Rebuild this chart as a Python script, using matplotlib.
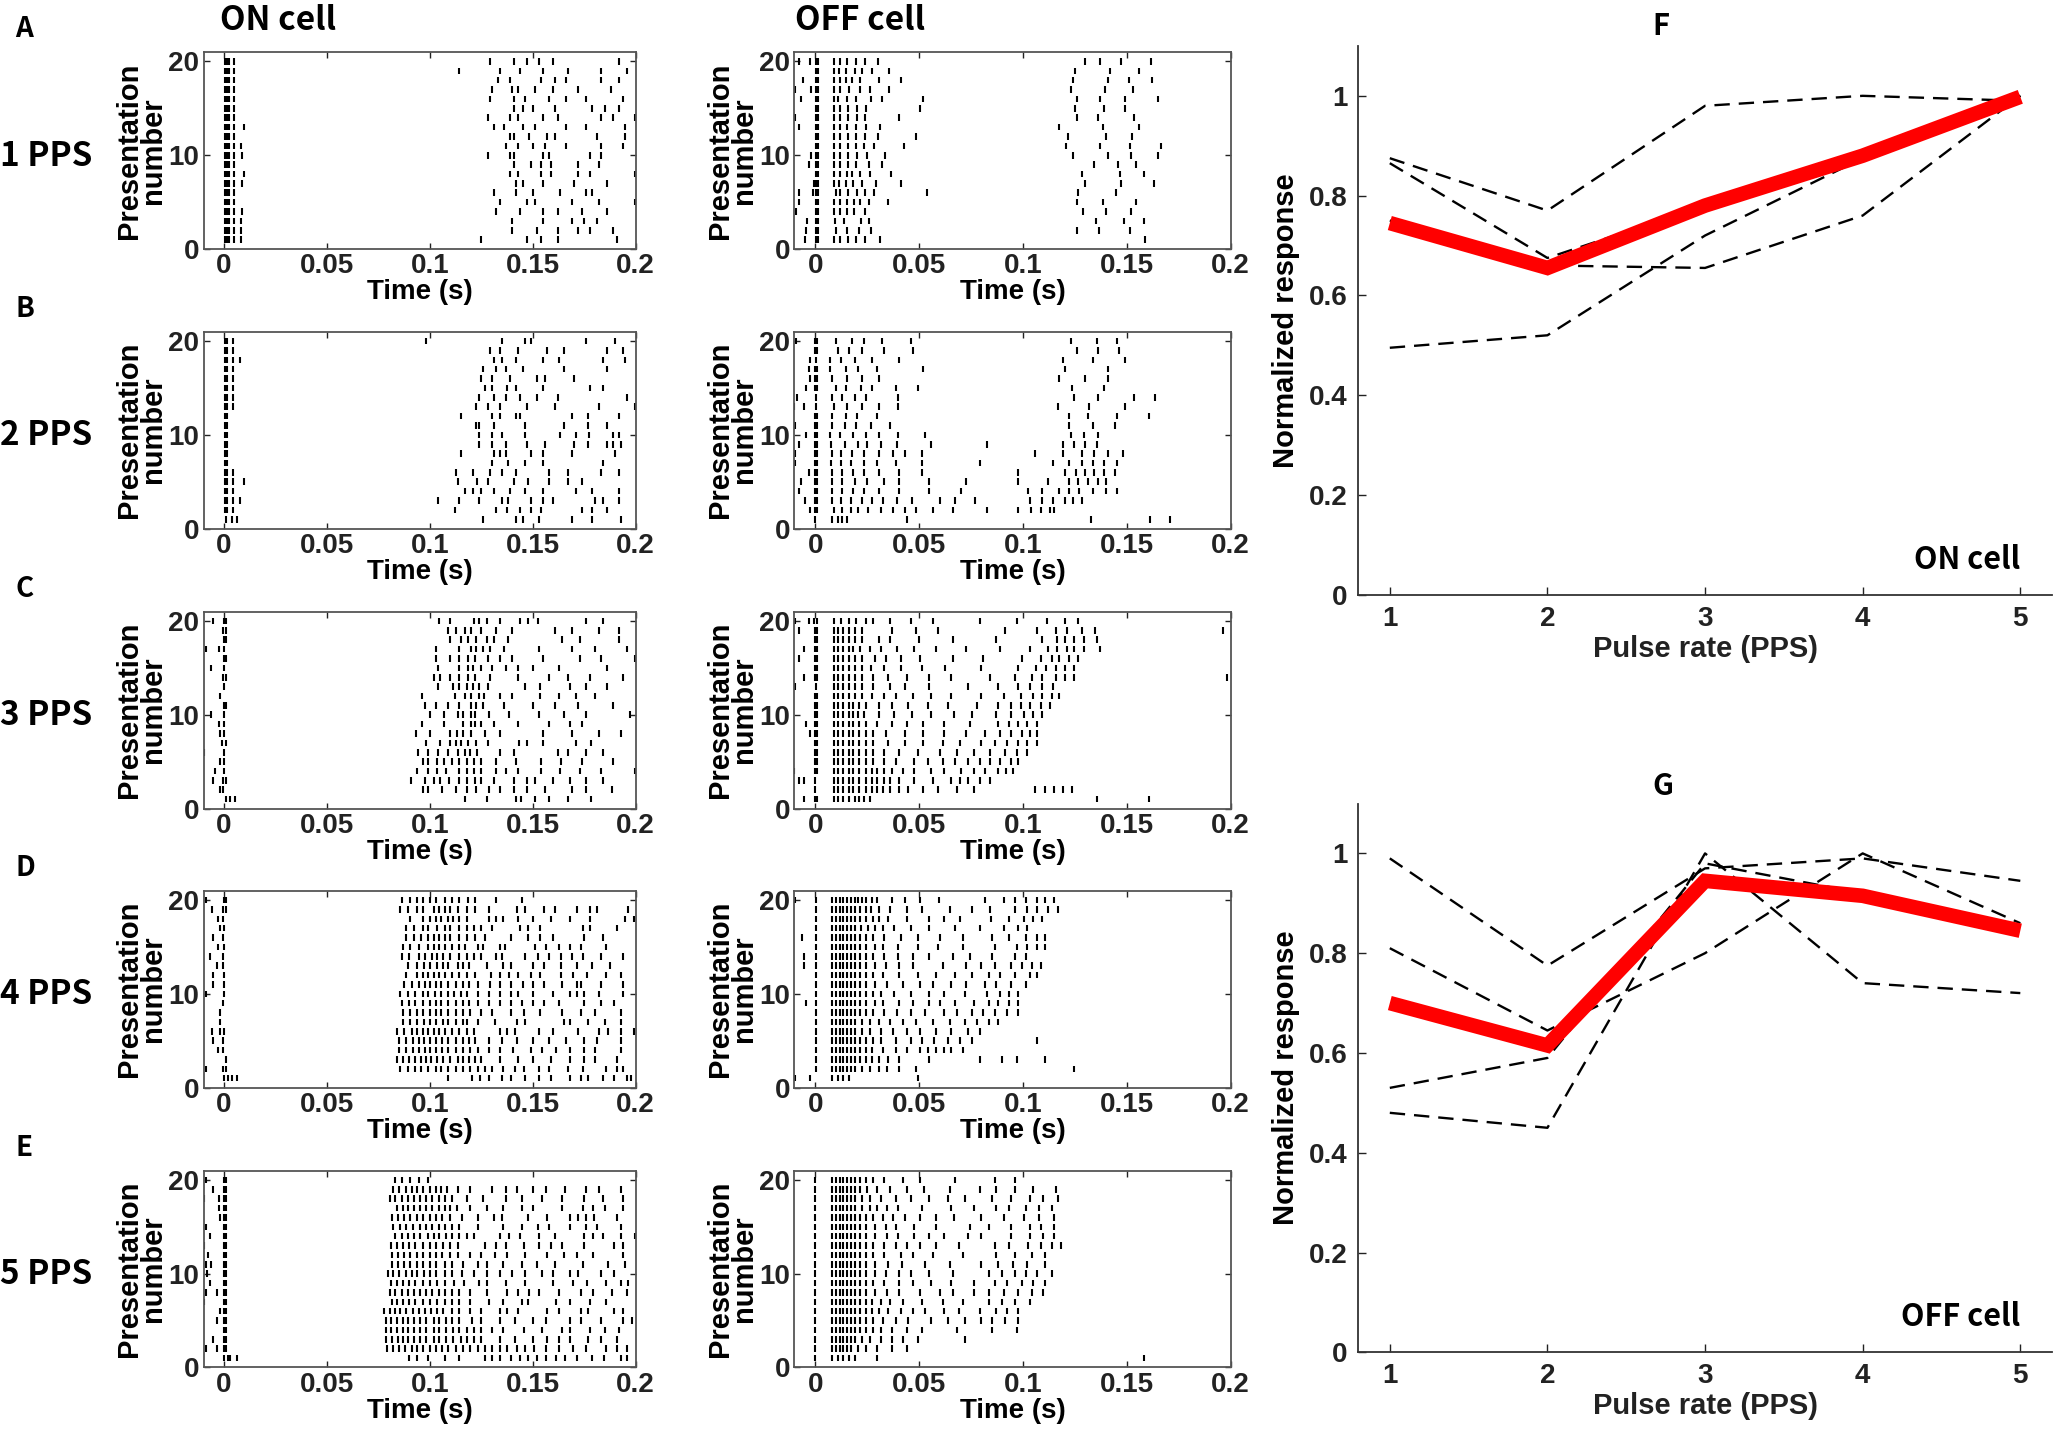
import numpy as np
import matplotlib
matplotlib.use("Agg")
import matplotlib.pyplot as plt

# spike times in ms, one list per presentation, presentation 20 first (top row) down to 1
on_1pps = [
    [0.4, 1.3, 2.3, 4.7, 129, 141, 147, 153, 160, 192],
    [0.4, 1.3, 2.3, 4.7, 114, 134, 144, 155, 167, 183, 196],
    [0.4, 1.3, 2.3, 4.7, 133, 139, 154, 161, 166, 183, 192],
    [0.4, 1.3, 2.3, 4.7, 130, 140, 143, 151, 160, 172, 188],
    [0.4, 1.3, 2.3, 4.7, 129, 141, 146, 158, 166, 176, 194],
    [0.4, 1.3, 2.3, 4.7, 141, 145, 150, 161, 179, 185, 192],
    [0.4, 1.3, 2.3, 4.7, 128, 139, 143, 155, 162, 183, 189, 199.5],
    [0.4, 1.3, 2.3, 4.7, 9.6, 131, 136, 145, 151, 166, 176, 195],
    [0.4, 1.3, 2.3, 4.7, 139, 141, 148, 157, 161, 181, 195],
    [0.4, 1.3, 2.3, 4.7, 8.2, 137, 143, 150, 156, 166, 183, 194],
    [0.4, 1.3, 2.3, 4.7, 8.8, 128, 139, 141, 155, 158, 178, 183],
    [0.4, 1.3, 2.3, 4.7, 141, 149, 154, 159, 172, 182],
    [0.4, 1.3, 2.3, 4.7, 9.6, 139, 143, 154, 159, 172, 178, 199.5],
    [0.4, 1.3, 2.3, 4.7, 8.8, 142, 145, 155, 170, 186],
    [0.4, 1.3, 2.3, 4.7, 131, 142, 150, 163, 176, 179],
    [0.4, 1.3, 2.3, 4.7, 134, 147, 151, 169, 182, 199.5],
    [0.4, 1.3, 2.3, 4.7, 8.8, 132, 144, 155, 162, 174, 186],
    [0.4, 1.3, 2.3, 4.7, 8.2, 140, 155, 169, 175, 181],
    [0.4, 1.3, 2.3, 4.7, 8.2, 140, 152, 162, 172, 178, 189],
    [0.4, 1.3, 2.3, 4.7, 8.2, 125, 147, 154, 162, 191],
]
off_1pps = [
    [-8, -2.4, 0.4, 1.5, 9.3, 12.1, 15.4, 19.5, 23.8, 30.3, 130, 137, 147, 161.5],
    [0.4, 1.5, 9.3, 11.5, 14.9, 19, 22.7, 27.5, 35.3, 125, 142, 156],
    [-6, 0.4, 1.5, 9.3, 12.1, 14.9, 17.7, 21.8, 30.9, 41.5, 124, 141, 151, 162],
    [-9.9, -1.9, 0.4, 1.5, 9.3, 12.1, 16.2, 21.4, 26.2, 35.3, 123, 139.5, 153],
    [-6.9, 0.4, 1.5, 9.3, 11.2, 15.4, 19.5, 27, 32, 52, 126, 137, 149, 165],
    [0.4, 1.5, 9.3, 12.1, 15.8, 20.1, 24.6, 50.6, 125, 139, 149],
    [-9.9, 0.4, 1.5, 9.3, 12.1, 15.8, 19.9, 24.2, 40.4, 126, 136, 153.5],
    [-7.8, 0.4, 1.5, 9.3, 12.1, 15.4, 19.5, 24.6, 31.3, 117.6, 138.6, 155.7],
    [0.4, 1.5, 9.3, 12.1, 15.8, 19.5, 24.2, 30.3, 48.4, 121.5, 140, 152.6],
    [0.4, 1.5, 9.3, 12.1, 15.8, 19.5, 23.6, 28.5, 42.8, 120.6, 137, 151.3, 166.5],
    [-1.9, 0.4, 1.5, 9.3, 12.1, 15.8, 19.9, 25.1, 33.5, 124, 141, 152, 165],
    [-2.8, 0.4, 1.5, 9.3, 12.1, 15.8, 19.5, 26, 32.2, 134, 145.7, 154.4],
    [0.4, 1.5, 9.3, 12.1, 15.4, 17.7, 21.4, 26.6, 36.3, 128.4, 146.6, 158.5],
    [-0.4, 0.4, 1.5, 9.3, 11.5, 14.7, 18, 22.7, 29.2, 41.5, 130, 147, 163],
    [-7.8, -0.9, 0.4, 1.5, 9.9, 12.1, 15.8, 19.9, 24.2, 28.5, 53.6, 126.5, 144.7],
    [-7.8, 0.4, 1.5, 9.3, 12.1, 15.2, 18.6, 21.4, 26, 35, 126, 138.6, 154.4],
    [-9.3, 0.4, 1.5, 9.3, 12.1, 15.2, 18.6, 24.2, 128.7, 140, 152],
    [-3.7, 0.4, 1.5, 9.7, 14, 22, 26, 135.3, 148.5, 158.5],
    [-4.3, 0.4, 1.5, 9.9, 15.4, 21, 27, 126, 136.7, 151.6],
    [-5, 0.4, 1.5, 9.3, 12.1, 15.8, 19.5, 23.8, 31, 158.7],
]
on_2pps = [
    [0.2, 1.5, 4.5, 98, 135, 146, 149, 176, 190],
    [0.2, 1.5, 4.5, 129, 134, 143, 157, 165, 186, 194],
    [0.2, 1.5, 4.5, 7.9, 131, 135, 142, 155, 162.5, 184, 195],
    [0.2, 1.5, 4.5, 126, 132, 137, 145, 165, 186],
    [0.2, 1.5, 4.5, 125, 130, 139, 152, 156, 170],
    [0.2, 1.5, 4.5, 127, 130, 137.5, 142, 155, 178, 184],
    [0.2, 1.5, 4.5, 124, 131, 137, 144, 152, 162, 196],
    [0.2, 1.5, 4.5, 122.5, 128, 134, 147, 161, 182, 199.5],
    [0.2, 1.5, 115, 130, 134, 142, 144, 169, 177, 192],
    [0.2, 1.5, 122.5, 124, 131, 146, 165, 177, 186],
    [0.2, 1.5, 124, 130, 135, 146, 163, 171, 177.5, 189, 192],
    [0.2, 1.5, 124, 130, 137, 147, 156, 170, 177, 186, 189, 193],
    [0.2, 1.5, 115, 131, 134, 137, 149, 155, 169, 190],
    [0.2, 1.5, 130, 138, 146, 155, 184],
    [0.2, 1.5, 4.5, 112.5, 121, 129, 135, 142, 158, 167, 183, 192],
    [0.2, 1.5, 4.5, 9.6, 113.5, 123, 128, 141, 147.5, 158, 167, 174],
    [0.2, 1.5, 4.5, 117, 121, 125, 131, 139, 146, 155, 171, 179, 192],
    [0.2, 1.5, 4.5, 7.9, 104, 114, 124, 135, 138, 149, 155, 160, 180, 184, 192],
    [0.2, 1.5, 4.5, 112, 132, 137.5, 144, 149, 154, 174, 179, 186],
    [0.7, 3.6, 6.4, 126, 142, 145, 153, 169, 179, 193],
]
off_2pps = [
    [-9, 0, 1.1, 10, 17.9, 23.3, 32.3, 45.9, 122.9, 135.5, 145.5],
    [0, 1.1, 10.8, 16.5, 22.6, 33.3, 47, 126, 136, 146.2],
    [-2.5, 0.4, 7.2, 12.5, 19, 27.2, 40.5, 119.4, 133.7, 149.1],
    [-3.2, 0, 1.1, 7.2, 14.7, 20.8, 29.7, 52, 120.1, 140.9],
    [-2.5, 0, 1.1, 8.2, 15.4, 22.6, 30.8, 117.6, 130.1, 140.9],
    [-4.3, 0, 1.1, 10, 14.7, 21.9, 27.2, 38.7, 49.5, 123.7, 139.1],
    [-8.6, 0.4, 8.2, 12.9, 19, 24.4, 39.8, 124.7, 136.2, 153.4, 163.4],
    [-10, -5.4, 0.4, 9, 15.4, 22.6, 30.5, 39.8, 116.8, 131.9, 149.1],
    [0, 1.1, 8.2, 14.7, 20, 29.7, 122.2, 131.2, 145.2, 160.6],
    [-9.7, 0, 1.1, 8.2, 14.3, 19.7, 26.9, 35.8, 122.2, 133.7, 144.4],
    [-4.3, 0, 1.1, 7.2, 11.8, 18.3, 24.4, 30.5, 39.8, 53, 122.9, 129.4, 136.2],
    [-7.9, 0, 1.1, 7.5, 14.3, 20.8, 25.1, 31.5, 39.4, 55.9, 82.8, 119.4, 124.7, 130.1, 135.5],
    [-9.7, 0, 1.1, 8.2, 12.5, 17.9, 23.3, 30.8, 37.6, 43.4, 51.3, 105.7, 119.4, 128.3, 134.4, 140.9, 148],
    [-9.7, 0, 1.1, 7.5, 12.5, 17.2, 23.3, 29.7, 38.7, 51.3, 79.2, 114.7, 122.2, 128.3, 133.7, 139.1, 145.2],
    [-3.2, 0, 1.1, 8.2, 12.9, 18.3, 23.7, 30.8, 40.5, 51.3, 97.8, 120.4, 125.4, 130.1, 134.4, 139.1, 144.4],
    [-6.8, 0, 1.1, 8.2, 12.9, 19, 25.1, 33.3, 40.5, 54.8, 72.8, 97.8, 112.2, 122.2, 126.5, 131.2, 136.2, 140.1],
    [-7.9, 0, 1.1, 8.2, 12.9, 18.3, 23.7, 30.8, 40.5, 54.8, 70.3, 102.5, 109.3, 117.6, 122.2, 127.2, 133.7, 140.1, 145.2],
    [-5, 0, 1.1, 8.2, 12.5, 17.2, 22.6, 27.2, 32.6, 39.4, 46.6, 60.2, 67.4, 77.1, 103.2, 109.3, 114.7, 120.1, 124, 128.3],
    [-2.5, 0, 1.1, 9.3, 12.9, 17.2, 20.8, 25.4, 31.5, 37.6, 43, 48.7, 56.6, 66.3, 82.8, 97.8, 103.9, 108.6, 112.9, 115.1],
    [0, 8.2, 10.8, 12.9, 15.4, 44.1, 133, 161.3, 170.6],
]
on_3pps = [
    [-5.4, 0, 1.1, 104.6, 110, 121.4, 124, 127.5, 134, 143.6, 147.5, 152.5, 176, 184],
    [-0.7, 0.7, 109, 112.5, 117, 120, 125, 132, 140, 161, 169, 182, 192],
    [0, 0.7, 110, 115, 118.5, 122.5, 127.5, 131, 138, 164, 173, 192],
    [-8.9, -2.5, 0, 103, 114, 120, 122.5, 126, 129, 136, 153, 169, 180, 196],
    [0, 0.7, 103, 110, 114, 118.5, 122, 128, 134, 140, 155, 173, 183, 199.5],
    [-6.4, 0, 104, 114, 118.5, 121, 125, 130, 137, 143, 150, 162.5, 186],
    [-0.7, 0.7, 102, 105, 110, 114, 118.5, 122, 129, 143, 158, 167, 178, 194],
    [0, 104, 111, 114, 118, 121, 124, 128, 146, 153.5, 168, 176, 186],
    [-1.8, 96, 112, 117, 120, 124, 126.5, 134, 140, 153.5, 162.5, 171, 180],
    [0, 0.7, 97.5, 103, 109, 114, 120, 122.5, 126, 136, 150, 161, 172, 189],
    [-6.4, 0, 100, 107, 113.5, 116, 120, 122, 128.5, 138.5, 153, 165, 176, 197],
    [-2.5, 0, 96, 107, 116, 120, 122, 125, 131, 143, 158, 168, 174],
    [-1.8, 0, 93, 100, 110, 113, 116, 120, 127, 134, 155, 169, 182, 193],
    [-1.1, 0.7, 98, 105, 110, 112.5, 115, 118.5, 122.5, 128, 143.5, 147, 155, 171, 178.5],
    [-9.6, 0, 94, 99, 104, 109, 113.5, 117, 119.5, 123, 134, 141, 162, 167, 176, 184],
    [-1.8, 0, 96.5, 99, 103.5, 107, 110.5, 114, 118, 121.5, 125, 132, 142, 154, 163.5, 174, 189],
    [-4.3, 0, 93.5, 99, 103.5, 108, 114, 118, 121.5, 125, 132, 137, 143, 154, 163, 173, 183, 199.5],
    [-5.4, -0.7, 0.7, 91, 97.5, 102, 105, 109.5, 114, 118, 122, 125, 131, 141, 147, 151, 160, 168, 176, 184],
    [-1.8, -0.7, 96.5, 99, 106, 112.5, 118, 122.5, 128.5, 134, 141, 147, 156, 169, 176, 188.5],
    [0.7, 2.9, 5.4, 117, 127.5, 142, 144.5, 151, 158, 167, 178.5],
]
off_3pps = [
    [-9.7, -3.2, -0.7, 1.1, 9, 12.5, 16.1, 19.7, 24.4, 28, 36.2, 45.9, 56.6, 79.2, 97.1, 111.5, 120.1, 126.5],
    [-7.9, 0, 1.1, 9, 11.1, 13.6, 16.1, 19, 22.6, 36.9, 48.4, 59.1, 91.4, 106.8, 115.8, 121.1, 128.3, 134.8, 196.4],
    [0, 1.1, 9, 11.1, 13.6, 16.1, 19, 22.6, 30.8, 36.2, 50.2, 66.3, 87.1, 109.3, 116.5, 120.1, 124.7, 129.4, 135.5],
    [-5.4, 0, 1.1, 9, 11.1, 13.6, 16.1, 18.3, 21.5, 26.2, 31.5, 39.4, 47.7, 58.4, 72.8, 88.9, 103.2, 112.2, 116.5, 121.1, 124.7, 129.4, 137.3],
    [-7.9, 0, 1.1, 9, 11.1, 13.6, 16.1, 19, 22.6, 28.7, 34, 41.2, 50.5, 66.3, 80.6, 99.6, 108.6, 114, 117.6, 122.2, 126.5],
    [0, 1.1, 9, 11.1, 13.6, 16.1, 19, 22.6, 26.9, 33.3, 41.2, 51.3, 62.7, 79.9, 97.8, 106.1, 111.1, 115.8, 120.1, 124.7],
    [-5.4, 0, 1.1, 9, 11.1, 13.6, 16.1, 19, 22.6, 28, 35.1, 44.1, 54.8, 65.6, 84.2, 96.1, 104.3, 109.3, 115.8, 120.1, 124.7, 198.2],
    [-9.7, 0.4, 9, 11.1, 13.6, 16.1, 19, 22.6, 28, 35.8, 43, 54.8, 73.5, 87.8, 97.8, 103.2, 109.3, 114.7],
    [0, 1.1, 9, 11.1, 13.6, 16.1, 19, 22.6, 27.2, 33.3, 38.7, 47, 55.9, 65.6, 79.9, 90.7, 98.9, 105, 109.3, 114, 117.6],
    [0, 1.1, 9, 11.1, 13.6, 16.1, 18.3, 21.1, 24.4, 30.8, 36.9, 44.8, 54.1, 63.8, 78.1, 87.8, 94.3, 98.9, 103.2, 108.6, 112.9],
    [0, 1.1, 9, 11.1, 13.6, 16.1, 18.3, 20.8, 23.7, 30.5, 38, 46.6, 55.6, 66.7, 75.6, 87.1, 94.3, 100.4, 105, 109.3],
    [-4.3, 0, 1.1, 9, 11.1, 13.6, 16.1, 18.3, 21.1, 24.4, 29.7, 36.9, 44.1, 52, 62, 74.6, 87.8, 93.2, 97.8, 102.2, 106.8],
    [-2.5, 0, 1.1, 9, 11.1, 13.6, 16.1, 18.3, 21.1, 24.4, 28, 34, 43, 52, 62, 72.8, 81.7, 88.9, 94.3, 99.6, 103.2, 106.8],
    [0, 1.1, 9, 11.1, 13.6, 16.1, 18.3, 21.1, 24.4, 28, 35.1, 43, 52, 61.3, 69.9, 79.9, 86.4, 92.5, 97.8, 102.2, 106.8],
    [0, 1.1, 9, 11.1, 13.6, 16.1, 18.3, 21.1, 24.4, 28, 33.3, 40.5, 49.5, 60.2, 68.5, 76.3, 84.2, 91.4, 97.1, 102.2],
    [0, 1.1, 9, 11.1, 13.6, 16.1, 18.3, 21.1, 24.4, 28, 33.3, 38.7, 47.7, 54.1, 61.3, 67.4, 73.8, 79.2, 84.2, 88.9, 94.3, 97.8],
    [-10.4, 0, 1.1, 9, 11.1, 13.6, 16.1, 18.3, 21.1, 24.4, 27.2, 29.7, 33.3, 36.9, 42.3, 47.7, 55.6, 62, 70.3, 76.3, 81.7, 87.8, 91.8, 95],
    [-7.9, -5.4, 0, 9, 11.1, 13.6, 16.1, 18.3, 21.1, 24.4, 27.2, 29.7, 33.3, 36.2, 40.5, 47.7, 56.6, 65.6, 69.9, 73.8, 79.2, 84.2],
    [0, 9, 11.1, 13.6, 16.1, 18.3, 21.1, 24.4, 27.2, 29.7, 32.6, 36.2, 40.5, 44.8, 52, 59.1, 68.5, 76.3, 105.7, 110.4, 115.1, 119.4, 123.7],
    [-5.4, 0, 1.1, 9, 11.1, 13.6, 16.1, 19, 21.1, 23.7, 26.2, 135.5, 160.6],
]
on_4pps = [
    [-8.9, 0, 1.1, 86.4, 90.4, 93.9, 96.4, 100, 102.9, 107.1, 110.7, 114.3, 118.6, 122.1, 132.1, 144.6],
    [-6.1, -0.7, 0.7, 85.7, 89.3, 93.6, 96.4, 101.8, 104.3, 107.1, 110, 113.6, 117.9, 122.1, 128.6, 142.1, 146.4, 155.4, 160.7, 171.4, 177.9, 181.4, 196.4],
    [-2.9, -0.7, 90.4, 96.4, 100, 102.9, 105.4, 108.9, 111.4, 114.3, 117.9, 128.6, 132.1, 135.7, 142.9, 150, 158.9, 167.9, 177.9, 194.6, 199.3],
    [-1.8, 0, 88.6, 92.1, 96.4, 98.9, 103.6, 107.1, 110, 114.3, 117.9, 121.4, 125, 130.4, 143.6, 147.5, 153.6, 174.3, 177.9, 191.1],
    [-5.4, -0.7, 88.6, 92.1, 95.7, 99.3, 101.8, 104.3, 107.1, 110, 114.3, 117.9, 122.1, 126.8, 139.3, 147.5, 153.6, 159.6, 175, 183.9],
    [-2.9, 0, 86.8, 90.4, 94.6, 98.9, 101.8, 104.3, 107.1, 110.7, 114.3, 117.1, 123.2, 125.7, 133.9, 136.4, 151.1, 156.4, 162.5, 167.9, 173.2, 185.7],
    [-7.1, -0.7, 86.4, 90, 94.6, 97.5, 101.1, 103.6, 106.4, 110, 114.3, 117.9, 121.4, 125, 132.1, 135, 146.4, 152.5, 157.9, 163.6, 168.9, 174.3, 183.2, 193.6],
    [-3.6, -0.7, 89.3, 93.6, 97.1, 100, 103.6, 106.4, 108.9, 113.6, 116.1, 118.9, 127.5, 135.7, 139.3, 150, 155.4, 163.6, 171.4, 178.6, 187.5],
    [-5.4, 0, 88.6, 93.6, 96.4, 99.3, 101.8, 104.6, 107.1, 110.7, 114.3, 117.9, 122.1, 129.6, 133.9, 138.2, 142.9, 148.9, 153.6, 163.6, 169.6, 176.1, 185.7, 192.9],
    [-5.4, 0, 87.5, 91.1, 94.6, 97.5, 100, 102.9, 105.4, 108.9, 112.5, 116.1, 118.9, 123.2, 129.3, 133.9, 139.3, 145.4, 150, 155.4, 164.3, 171.4, 173.2, 182.9, 193.6],
    [-8.9, 0, 85.7, 89.3, 92.9, 96.4, 99.3, 102.5, 105.4, 108.9, 111.8, 115, 117.9, 123.2, 128.6, 133.9, 139.3, 142.9, 150, 160, 167.9, 171.4, 175, 182.1, 193.6],
    [-0.7, 86.4, 90, 92.9, 96.4, 100, 102.9, 105.4, 108.9, 112.5, 116.1, 118.9, 123.2, 128.6, 133.9, 139.3, 144.6, 150, 155.4, 162.5, 175, 182.9, 189.3],
    [-1.8, 86.8, 90.4, 93.6, 96.4, 100, 102.9, 105.4, 108.9, 112.5, 116.1, 119.6, 125, 130.4, 139.3, 145.7, 153.6, 164.3, 173.2, 180.4, 192.9],
    [-1.8, 86.8, 90.4, 93.6, 97.1, 100, 102.9, 106.4, 108.9, 112.5, 116.1, 117.9, 123.2, 131.4, 142.1, 146.4, 165, 167.9, 176.8, 185, 192.9],
    [-6.1, -1.8, 0, 83.9, 87.5, 91.1, 93.9, 96.4, 99.3, 101.8, 104.6, 107.1, 110.7, 114.3, 117.9, 121.4, 133.9, 137.5, 141.1, 152.9, 160, 172.1, 182.1, 186.4, 192.9, 199.3],
    [-5.4, -0.7, 85, 88.6, 91.8, 94.6, 97.1, 100, 102.9, 105.7, 108.9, 112.5, 116.1, 118.9, 122.1, 128.6, 135, 142.1, 150, 157.9, 166.1, 175, 181.4, 192.9],
    [-2.9, -0.7, 85, 88.6, 91.8, 94.6, 97.5, 100, 102.9, 105.7, 108.9, 112.5, 116.1, 119.6, 123.2, 128.6, 133.9, 140.4, 149.3, 154.3, 161.4, 167.9, 175, 180.4, 192.9],
    [0.7, 83.9, 86.8, 90, 92.9, 95.7, 98.2, 100.7, 103.6, 106.4, 110, 113.6, 116.1, 118.9, 122.1, 125, 133.9, 142.9, 150, 158.9, 167.9, 175, 180.4, 191.1],
    [-8.9, -0.7, 1.1, 85.7, 89.3, 92.9, 95.7, 99.3, 102.9, 105.4, 108.9, 112.5, 116.1, 119.6, 123.2, 126.8, 130.4, 135.7, 141.1, 145.7, 152.9, 157.9, 167.1, 174.3, 185.7, 191.1, 193.6],
    [0, 1.8, 3.6, 6.4, 108.9, 120.4, 124.3, 128.6, 135, 139.3, 146.4, 152.9, 158.9, 167.9, 173.2, 176.8, 183.9, 189.3, 195.7, 197.5],
]
off_4pps = [
    [-9.7, 0.4, 8.2, 10, 11.8, 13.6, 15.4, 17.2, 19, 20.8, 22.6, 24.4, 27.2, 29.7, 36.9, 43.4, 50.5, 59.5, 81.7, 90.7, 96.1, 101.4, 106.8, 110.4, 115.1],
    [0.4, 8.2, 10, 11.8, 13.6, 15.4, 17.2, 19, 21.5, 24.4, 26.9, 30.8, 35.8, 44.1, 51.3, 64.9, 75.6, 84.2, 96.1, 102.2, 106.8, 112.2, 116.8],
    [0.4, 8.2, 10, 11.8, 13.6, 15.4, 17.2, 19, 21.5, 24.4, 28, 30.8, 35.1, 44.1, 54.8, 62, 69.9, 84.6, 93.5, 100.4, 105, 109.3],
    [0.4, 8.2, 10, 11.8, 13.6, 15.4, 17.2, 19, 21.9, 25.4, 29, 32.6, 38, 45.9, 54.8, 67.4, 79.2, 90.7, 97.8, 102.2],
    [-6.1, 0.4, 8.2, 10, 11.8, 13.6, 15.4, 17.2, 19, 21.5, 24.4, 28, 33.3, 41.2, 49.5, 60.2, 71, 85.3, 93.5, 101.4, 106.8, 110.4],
    [0.4, 8.2, 10, 11.8, 13.6, 15.4, 17.2, 19, 21.5, 24.4, 29, 32.6, 39.8, 49.5, 59.1, 71, 86.4, 97.1, 102.2, 106.8, 110.4],
    [-5.4, 0.4, 8.2, 10, 11.8, 13.6, 15.4, 17.2, 19, 21.5, 24.4, 28, 33.3, 39.8, 47, 54.8, 66.3, 74.6, 85.3, 96.1, 101.4],
    [-5.4, 0.4, 8.2, 10, 11.8, 13.6, 15.4, 17.2, 19, 21.5, 24.4, 29, 34, 40.5, 47, 61.3, 72.8, 79.9, 86.4, 94.3, 99.6, 104.3, 108.6],
    [0.4, 8.2, 10, 11.8, 13.6, 15.4, 17.2, 19, 21.5, 24.4, 28, 32.6, 40.5, 49.5, 58.4, 67.4, 75.6, 83.5, 88.9, 96.1, 103.2, 106.8],
    [0.4, 8.2, 10, 11.8, 13.6, 15.4, 17.2, 19, 21.5, 24.4, 29, 34.4, 42.3, 50.5, 56.6, 65.6, 72.8, 81.7, 87.1, 94.3, 101.4],
    [0.4, 8.2, 10, 11.8, 13.6, 15.4, 17.2, 19, 21.5, 24.4, 28, 31.5, 38, 45.9, 54.8, 62, 72, 82.8, 88.9, 93.5, 97.8],
    [-4.3, 0.4, 8.2, 10, 11.8, 13.6, 15.4, 17.2, 19, 21.5, 24.4, 29, 32.6, 40.5, 47, 54.8, 60.2, 67.4, 76.3, 83.5, 88.2, 93.5, 97.8],
    [0.4, 8.2, 10, 11.8, 13.6, 15.4, 17.2, 19, 21.5, 24.4, 28, 33.3, 39.4, 45.9, 53, 62, 68.5, 75.6, 80.6, 86.4, 92.5, 97.8],
    [0.4, 8.2, 10, 11.8, 13.6, 15.4, 17.2, 19, 22.6, 26.2, 30.5, 36.2, 42.3, 48.4, 56.6, 64.9, 72, 78.1, 83.5, 87.8],
    [0.4, 8.2, 10, 11.8, 13.6, 15.4, 17.2, 19, 22.6, 26.2, 31.5, 37.6, 44.1, 50.5, 58.4, 65.6, 73.5, 79.2],
    [0.4, 8.2, 10, 11.8, 13.6, 15.4, 17.2, 19, 21.5, 24.4, 28, 31.5, 38.7, 45.9, 51.3, 57.3, 63.8, 69.9, 75.6, 106.8],
    [0.4, 8.2, 10, 11.8, 13.6, 15.4, 17.2, 19, 21.5, 24.4, 27.2, 32.6, 38.7, 44.1, 50.5, 54.1, 58.4, 62, 65.6, 71],
    [0.4, 8.2, 10, 11.8, 13.6, 15.4, 17.2, 19, 21.5, 24.4, 27.2, 30.5, 35.1, 40.5, 54.8, 79.2, 90, 97.1, 110.4],
    [0.4, 8.2, 10, 11.8, 13.6, 15.4, 17.2, 19, 22.6, 26.2, 30.8, 34.4, 40.5, 48.4, 124.7],
    [-9.7, -2.5, 8.2, 11.1, 13.6, 16.1, 49.5],
]
on_5pps = [
    [-8.9, 0, 1.1, 83.2, 86.4, 90.4, 94.6, 98.9],
    [-5.4, 0, 1.1, 82.1, 85, 88.2, 91.1, 93.9, 96.4, 100, 102.9, 105.4, 108.2, 113.6, 119.6, 130.4, 136.8, 142.1, 150, 156.4, 165.4, 175.7, 182.1, 192.9],
    [-9.6, -2.5, 0, 1.1, 80.4, 83.2, 86.4, 89.3, 92.1, 95.4, 98.2, 101.1, 104.3, 107.1, 110.7, 117.9, 125.7, 136.8, 144.6, 154.3, 164.3, 175, 183.9, 193.9],
    [-2.5, 0, 1.1, 83.9, 86.8, 89.3, 92.1, 95.4, 98.2, 101.1, 104.3, 107.1, 109.6, 113.2, 119.6, 127.9, 135.7, 144.6, 150, 164.3, 174.3, 179.3, 185, 193.6],
    [-1.8, 0, 1.1, 81.4, 84.6, 87.5, 90.4, 93.6, 96.4, 100, 102.9, 106.1, 109.6, 115.4, 123.2, 131.1, 135, 147.5, 157.1, 167.9, 172.1, 175.7, 179.6, 191.1],
    [-8.9, 0, 1.1, 82.1, 85.7, 88.6, 91.8, 95.4, 98.2, 101.1, 104.3, 107.1, 110.7, 114.3, 123.2, 135.7, 144.6, 152.5, 157.9, 167.9, 175.7, 181.4, 192.9],
    [-7.1, 0, 1.1, 83.2, 86.4, 89.3, 92.1, 95.4, 98.9, 101.8, 104.6, 107.9, 110.7, 114.3, 117.9, 121.4, 133.9, 138.6, 143.9, 152.9, 160.7, 175, 179.3, 183.9, 192.9, 199.6],
    [-9.6, 0, 1.1, 81.1, 83.9, 86.8, 90, 92.9, 96.4, 100, 102.9, 106.4, 110, 113.6, 126.8, 132.1, 136.8, 145.7, 152.9, 158.9, 164.3, 175, 189.3, 193.6],
    [-7.9, 0, 1.1, 81.4, 84.6, 87.5, 90.4, 93.6, 96.4, 100, 102.9, 106.1, 109.6, 113.6, 119.6, 125, 131.4, 137.5, 146.4, 157.1, 165, 171.4, 179.3, 193.6],
    [-8.9, -6.4, 0, 1.1, 81.4, 84.6, 87.5, 90.4, 93.6, 96.4, 100, 102.9, 107.1, 110.7, 116.1, 123.2, 127.9, 135.7, 144.6, 151.8, 160.7, 174.3, 186.4, 194.6],
    [-8.2, 0, 1.1, 79.6, 82.1, 85, 88.2, 91.1, 93.9, 97.1, 100, 102.9, 107.1, 110.7, 115.4, 121.4, 127.5, 133.9, 140, 146.4, 154.6, 160, 167.9, 172.1, 182.9, 189.3],
    [-7.1, 0, 1.1, 81.1, 83.9, 86.8, 90, 92.9, 96.4, 100, 103.6, 107.1, 111.8, 116.8, 123.9, 127.9, 136.8, 146.4, 160, 169.6, 176.1, 185.7, 192.9, 196.4],
    [-8.9, -3.6, 0, 1.1, 80.4, 83.2, 86.4, 89.3, 92.1, 95.4, 98.2, 101.1, 104.3, 107.1, 110.7, 114.3, 119.6, 127.9, 137.5, 142.9, 148.2, 152.9, 162.5, 173.2, 179.3, 188.6, 195.7],
    [-9.6, 0, 1.1, 81.4, 83.9, 86.8, 90, 92.9, 96.4, 100, 103.6, 107.1, 110.7, 114.3, 119.6, 128.6, 135.7, 144.6, 147.5, 161.4, 167.9, 177.9, 185.7],
    [-1.8, 0, 1.1, 77.9, 80.4, 83.2, 85.7, 88.6, 91.8, 94.6, 97.5, 100.7, 103.6, 106.4, 110.7, 114.3, 119.6, 125, 133.9, 137.5, 142.9, 157.1, 162.5, 173.2, 176.8, 189.3, 193.6],
    [-3.6, 0, 1.1, 78.6, 81.1, 83.9, 86.8, 89.3, 92.1, 95.4, 98.2, 101.8, 104.6, 107.9, 110.7, 114.3, 120.4, 125, 133.9, 141.1, 150, 156.4, 167.9, 173.2, 182.9, 193.6, 198.2],
    [0, 1.1, 78.6, 81.1, 83.9, 86.8, 89.3, 92.1, 95.4, 98.2, 101.8, 104.6, 107.9, 111.4, 114.3, 117.9, 121.4, 125, 130.4, 135.7, 145.7, 154.6, 164.3, 167.9, 177.9, 185, 192.1],
    [-5.4, 0, 1.1, 78.6, 81.4, 84.3, 86.8, 89.3, 92.1, 95.4, 98.2, 101.8, 104.6, 107.9, 111.4, 115, 117.9, 121.4, 125, 133.9, 141.1, 150, 157.1, 162.5, 167.9, 176.8, 182.9, 191.1],
    [-8.9, -3.6, 0, 1.1, 79.3, 82.1, 85, 87.9, 91.1, 93.9, 96.8, 100, 102.9, 106.1, 108.9, 112.5, 116.1, 119.6, 123.2, 126.8, 130.4, 133.9, 137.5, 142.1, 146.4, 150.7, 156.4, 162.5, 169.6, 175.7, 185.7, 191.1, 195.7],
    [0, 1.8, 2.9, 6.4, 90, 93.9, 99.3, 107.1, 114.3, 126.8, 130.4, 133.9, 139.3, 143.6, 147.5, 151.8, 156.4, 161.4, 165.4, 171.4, 178.6, 184.6, 192.9, 195.7],
]
off_5pps = [
    [0, 8.2, 10, 11.8, 13.6, 15.4, 17.2, 19, 21.5, 24.4, 28, 33.3, 42.3, 50.5, 67.4, 86.4, 96.1],
    [0, 8.2, 10, 11.8, 13.6, 15.4, 17.2, 19, 21.5, 25.1, 29.7, 36.2, 44.1, 52.3, 64.9, 79.2, 87.1, 96.1, 105, 115.8],
    [0, 8.2, 10, 11.8, 13.6, 15.4, 17.2, 19, 22.6, 26.2, 31.5, 38.7, 45.9, 54.8, 63.8, 72, 85.3, 94.3, 103.2, 109.7, 116.8],
    [0, 8.2, 10, 11.8, 13.6, 15.4, 17.2, 19, 22.6, 26.2, 29.7, 34.4, 39.8, 51.3, 65.6, 76.3, 87.1, 93.5, 101.4, 107.9, 114],
    [0, 8.2, 10, 11.8, 13.6, 15.4, 17.2, 19, 21.5, 24.4, 28, 32.6, 37.6, 43.4, 50.5, 58.4, 66.7, 79.9, 90.7, 100.7, 107.9, 115.1],
    [0, 8.2, 10, 11.8, 13.6, 15.4, 17.2, 19, 21.5, 24.4, 29, 34, 38.7, 47.7, 58.4, 74.6, 83.5, 94.3, 103.2, 108.6, 115.1],
    [0, 8.2, 10, 11.8, 13.6, 15.4, 17.2, 19, 21.5, 24.4, 29, 34.4, 39.8, 47.7, 54.8, 62, 73.8, 79.9, 94.3, 103.2, 109.7, 115.1],
    [0, 8.2, 10, 11.8, 13.6, 15.4, 17.2, 19, 21.5, 24.4, 28, 33.3, 38.7, 44.1, 50.5, 58.4, 69.2, 86.4, 93.5, 102.5, 108.6, 114, 118.3],
    [0, 8.2, 10, 11.8, 13.6, 15.4, 17.2, 19, 21.5, 24.4, 28, 33.3, 41.2, 47, 56.6, 71, 87.1, 96.1, 104.3, 110.4],
    [0, 8.2, 10, 11.8, 13.6, 15.4, 17.2, 19, 21.5, 24.4, 29, 35.1, 41.6, 53, 64.9, 79.9, 87.8, 95.3, 102.2, 110.4],
    [0, 8.2, 10, 11.8, 13.6, 15.4, 17.2, 19, 21.5, 24.4, 29, 34, 40.5, 45.9, 54.8, 66.3, 83.5, 90, 96.1, 101.4, 106.8, 114],
    [0, 8.2, 10, 11.8, 13.6, 15.4, 17.2, 19, 21.5, 24.4, 28, 33.3, 40.5, 47, 55.9, 65.6, 76.3, 86.4, 92.5, 99.6, 105, 110.4],
    [0, 8.2, 10, 11.8, 13.6, 15.4, 17.2, 19, 21.5, 24.4, 29, 34.4, 40.5, 50.5, 60.2, 66.3, 76.3, 83.5, 90.7, 97.8, 104.3, 109.7],
    [0, 8.2, 10, 11.8, 13.6, 15.4, 17.2, 19, 21.5, 24.4, 27.2, 31.5, 36.2, 42.3, 51.3, 61.3, 71, 83.5, 90, 96.1, 103.2],
    [0, 8.2, 10, 11.8, 13.6, 15.4, 17.2, 19, 21.5, 24.4, 27.2, 30.8, 35.1, 41.2, 47, 53, 62, 69.2, 79.2, 87.1, 92.5, 97.8],
    [0, 8.2, 10, 11.8, 13.6, 15.4, 17.2, 19, 21.5, 24.4, 28, 32.6, 38.7, 44.8, 55.6, 63.8, 72, 79.9, 85.3, 91.4, 97.8],
    [0, 8.2, 10, 11.8, 13.6, 15.4, 17.2, 19, 21.5, 24.4, 28, 31.5, 36.9, 44.1, 51.3, 68.5, 85.3, 97.1],
    [0, 8.2, 10, 11.8, 13.6, 15.4, 17.2, 19, 22.6, 26.2, 31.5, 36.9, 42.3, 49.5, 72],
    [0, 8.2, 10, 11.8, 13.6, 15.4, 17.2, 20.8, 24.4, 29.7, 36.9, 44.1],
    [0, 8.2, 11.1, 13.6, 16.1, 19, 29.7, 158.1],
]

on_rasters = [on_1pps, on_2pps, on_3pps, on_4pps, on_5pps]
off_rasters = [off_1pps, off_2pps, off_3pps, off_4pps, off_5pps]
row_labels = ["1 PPS", "2 PPS", "3 PPS", "4 PPS", "5 PPS"]
row_letters = ["A", "B", "C", "D", "E"]

# normalized responses vs pulse rate
pulse_rate = [1, 2, 3, 4, 5]
on_cells = [
    [0.875, 0.77, 0.98, 1.0, 0.99],
    [0.865, 0.675, 0.78, 0.88, 1.0],
    [0.75, 0.66, 0.655, 0.76, 1.0],
    [0.495, 0.52, 0.72, 0.875, 1.0],
]
on_mean = [0.745, 0.655, 0.78, 0.88, 0.998]
off_cells = [
    [0.99, 0.775, 0.97, 0.99, 0.945],
    [0.81, 0.645, 0.80, 1.0, 0.86],
    [0.53, 0.59, 0.98, 0.92, 0.855],
    [0.48, 0.45, 1.0, 0.74, 0.72],
]
off_mean = [0.70, 0.615, 0.945, 0.915, 0.845]

tick_font = ["Liberation Sans", "DejaVu Sans"]
head_font = ["Noto Sans CJK KR", "DejaVu Sans"]

fig = plt.figure(figsize=(20.58, 14.31), dpi=100)


def raster(ax, trials):
    n = len(trials)
    ax.eventplot([np.array(t) / 1000.0 for t in trials], lineoffsets=np.arange(n, 0, -1),
                 linelengths=0.7, colors="k", linewidths=1.5)
    ax.set_xlim(-0.01, 0.2)
    ax.set_ylim(0, 21)
    ax.set_xticks([0, 0.05, 0.1, 0.15, 0.2])
    ax.set_xticklabels(["0", "0.05", "0.1", "0.15", "0.2"], family=tick_font, weight="bold", fontsize=20)
    ax.set_yticks([0, 10, 20])
    ax.set_yticklabels(["0", "10", "20"], family=tick_font, weight="bold", fontsize=20)
    ax.tick_params(direction="in", top=True, right=True, length=4, width=1, pad=3, colors="#222222")
    for s in ax.spines.values():
        s.set_color("#555555")
        s.set_linewidth(1.3)
    ax.set_xlabel("Time (s)", family=tick_font, weight="bold", fontsize=20, labelpad=0)
    ax.set_ylabel("Presentation\nnumber", family=tick_font, weight="bold",
                  fontsize=21, linespacing=0.8, labelpad=1)


row_bottoms = [0.826, 0.6306, 0.435, 0.240, 0.0444]
for i in range(5):
    b = row_bottoms[i]
    ax_on = fig.add_axes([0.0989, b, 0.210, 0.1376])
    raster(ax_on, on_rasters[i])
    ax_off = fig.add_axes([0.386, b, 0.212, 0.1376])
    raster(ax_off, off_rasters[i])
    fig.text(0.0075, b + 0.1376 + 0.016, row_letters[i], family=head_font, weight="bold",
             fontsize=20, va="center", ha="left")
    fig.text(0.0225, b + 0.1376 / 2 - 0.004, row_labels[i], family=head_font, weight="bold",
             fontsize=24, va="center", ha="center")

fig.text(0.135, 0.986, "ON cell", family=head_font, weight="bold", fontsize=24, va="center", ha="center")
fig.text(0.418, 0.986, "OFF cell", family=head_font, weight="bold", fontsize=24, va="center", ha="center")


def tuning(ax, cells, mean, label):
    for c in cells:
        ax.plot(pulse_rate, c, color="k", lw=1.7, dashes=(6.5, 3.8))
    ax.plot(pulse_rate, mean, color="#ff0000", lw=10.5, solid_capstyle="butt", solid_joinstyle="miter")
    ax.set_xlim(0.8, 5.2)
    ax.set_ylim(0, 1.1)
    ax.set_xticks(pulse_rate)
    ax.set_xticklabels([str(p) for p in pulse_rate], family=tick_font, weight="bold", fontsize=20)
    ax.set_yticks([0, 0.2, 0.4, 0.6, 0.8, 1.0])
    ax.set_yticklabels(["0", "0.2", "0.4", "0.6", "0.8", "1"], family=tick_font, weight="bold", fontsize=20)
    ax.tick_params(direction="in", length=6, width=1, pad=8, colors="#222222")
    ax.spines["top"].set_visible(False)
    ax.spines["right"].set_visible(False)
    for s in ["left", "bottom"]:
        ax.spines[s].set_color("#333333")
        ax.spines[s].set_linewidth(1.3)
    ax.set_xlabel("Pulse rate (PPS)", family=tick_font, weight="bold",
                  fontsize=21, labelpad=2, color="#222222")
    ax.set_ylabel("Normalized response", family=tick_font, weight="bold",
                  fontsize=21, labelpad=6)
    ax.text(5.0, 0.07, label, family=head_font, weight="bold", fontsize=22, ha="right", va="center")


ax_f = fig.add_axes([0.660, 0.5844, 0.337, 0.3835])
tuning(ax_f, on_cells, on_mean, "ON cell")
ax_g = fig.add_axes([0.660, 0.0550, 0.337, 0.3835])
tuning(ax_g, off_cells, off_mean, "OFF cell")
fig.text(0.803, 0.982, "F", family=head_font, weight="bold", fontsize=21, va="center", ha="left")
fig.text(0.803, 0.451, "G", family=head_font, weight="bold", fontsize=21, va="center", ha="left")

fig.savefig("out.png", dpi=100)
